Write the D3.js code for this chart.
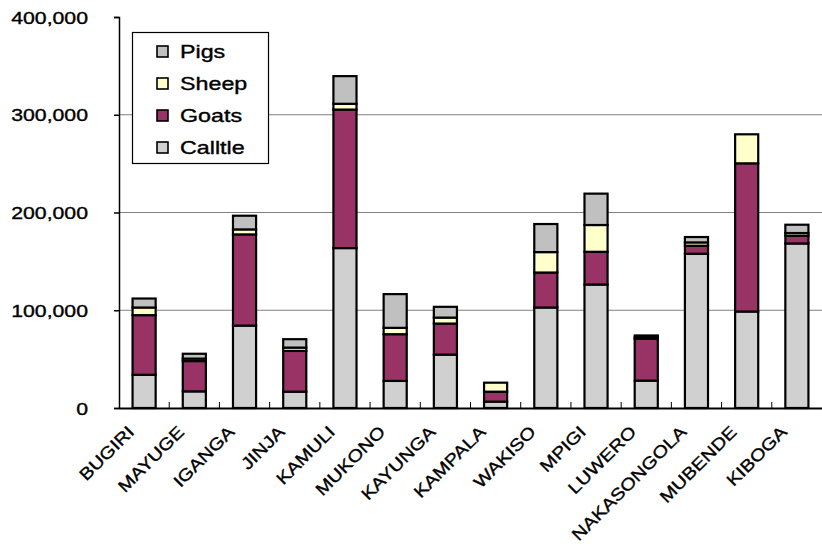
<!DOCTYPE html>
<html>
<head>
<meta charset="utf-8">
<script src="https://cdn.jsdelivr.net/npm/d3@7"></script>
<style>
  html, body { margin: 0; padding: 0; background: #fff; }
  svg { display: block; }
  text { font-family: "Liberation Sans", Arial, sans-serif; fill: #000; stroke: #000; stroke-width: 0.35px; }
</style>
</head>
<body>
<svg id="chart" width="822" height="546"></svg>
<script>
// Livestock numbers by district
const districts = ["BUGIRI", "MAYUGE", "IGANGA", "JINJA", "KAMULI", "MUKONO", "KAYUNGA",
  "KAMPALA", "WAKISO", "MPIGI", "LUWERO", "NAKASONGOLA", "MUBENDE", "KIBOGA"];
const cattle = [34000, 17000, 84300, 16700, 163600, 27700, 54600, 6500, 102800, 126300, 28000, 157800, 98700, 168300];
const goats  = [61000, 31000, 93300, 41700, 141700, 47800, 31800, 10200, 35800, 33500, 42700, 8200, 151600, 7900];
const sheep  = [7800, 2500, 5100, 3400, 5900, 6500, 6100, 9200, 20900, 27400, 1500, 3400, 29700, 2800];
const pigs   = [9200, 5000, 14000, 8600, 28300, 34500, 11000, 0, 28700, 32100, 2000, 5500, 0, 8500];
const yTicks = [0, 100000, 200000, 300000, 400000];

// Stack order bottom -> top; legend lists them top -> bottom
const seriesNames = ["Calltle", "Goats", "Sheep", "Pigs"];
const seriesValues = [cattle, goats, sheep, pigs];
const seriesColors = ["#d0d0d0", "#993366", "#ffffcc", "#c0c0c0"];

const rows = districts.map((d, i) => {
  const r = { district: d };
  seriesNames.forEach((s, k) => { r[s] = seriesValues[k][i]; });
  return r;
});

const svg = d3.select("#chart");
const plotLeft = 119, plotRight = 822, plotTop = 17, plotBottom = 408;

const x = d3.scaleBand().domain(districts).range([plotLeft, plotRight]).paddingInner(0.54).paddingOuter(0.27);
const xOuter = d3.scaleBand().domain(districts).range([plotLeft, plotRight]);
const y = d3.scaleLinear().domain([0, 400000]).range([plotBottom, plotTop]);

// Horizontal gridlines
svg.append("g").selectAll("line")
  .data(yTicks.filter(v => v > 0 && v < 400000))
  .join("line")
  .attr("x1", plotLeft).attr("x2", plotRight)
  .attr("y1", d => y(d)).attr("y2", d => y(d))
  .attr("stroke", "#808080").attr("stroke-width", 1.2);

// Stacked bars
const stack = d3.stack().keys(seriesNames)(rows);
svg.append("g").selectAll("g")
  .data(stack)
  .join("g")
  .attr("fill", (d, i) => seriesColors[i])
  .selectAll("rect")
  .data(d => d)
  .join("rect")
  .attr("x", d => x(d.data.district))
  .attr("width", x.bandwidth())
  .attr("y", d => y(d[1]))
  .attr("height", d => y(d[0]) - y(d[1]))
  .attr("stroke", "#000")
  .attr("stroke-width", 2.2);

// Y axis
const yAxis = svg.append("g")
  .attr("transform", `translate(${plotLeft},0)`)
  .call(d3.axisLeft(y).tickValues(yTicks).tickSize(5).tickFormat(""));
yAxis.selectAll("path, line").attr("stroke", "#000").attr("stroke-width", 1.5);

const fmt = d3.format(",");
svg.append("g").selectAll("text")
  .data(yTicks)
  .join("text")
  .attr("transform", d => `translate(88,${y(d) + 6.5}) scale(1.25,1)`)
  .attr("text-anchor", "end")
  .style("font-size", "17px")
  .text(d => fmt(d));

// X axis baseline with tick marks between districts pointing up
const xAxis = svg.append("g")
  .attr("transform", `translate(0,${plotBottom})`)
  .call(d3.axisBottom(xOuter).tickSize(0).tickFormat(""));
xAxis.select("path").attr("stroke", "#000").attr("stroke-width", 2);
svg.append("g").selectAll("line")
  .data(districts.slice(1))
  .join("line")
  .attr("x1", d => xOuter(d)).attr("x2", d => xOuter(d))
  .attr("y1", plotBottom).attr("y2", plotBottom - 6)
  .attr("stroke", "#000").attr("stroke-width", 1);

// Rotated district labels
svg.append("g").selectAll("text")
  .data(districts)
  .join("text")
  .attr("transform", d => `translate(${xOuter(d) + xOuter.bandwidth() / 2 - 9},433) rotate(-45) scale(1.18,1)`)
  .attr("text-anchor", "end")
  .style("font-size", "17px")
  .text(d => d);

// Legend
const legend = svg.append("g");
legend.append("rect")
  .attr("x", 132.5).attr("y", 32.5).attr("width", 136).attr("height", 131)
  .attr("fill", "#fff").attr("stroke", "#000").attr("stroke-width", 1.2);
const legendOrder = seriesNames.map((s, i) => i).reverse();
const items = legend.selectAll("g.item")
  .data(legendOrder)
  .join("g")
  .attr("class", "item")
  .attr("transform", (d, j) => `translate(0,${51.5 + j * 32})`);
items.append("rect")
  .attr("x", 157).attr("y", -5.5).attr("width", 11).attr("height", 11)
  .attr("fill", d => seriesColors[d]).attr("stroke", "#000").attr("stroke-width", 1.6);
items.append("text")
  .attr("transform", "translate(180,6.5) scale(1.33,1)")
  .style("font-size", "17.5px")
  .text(d => seriesNames[d]);
</script>
</body>
</html>
